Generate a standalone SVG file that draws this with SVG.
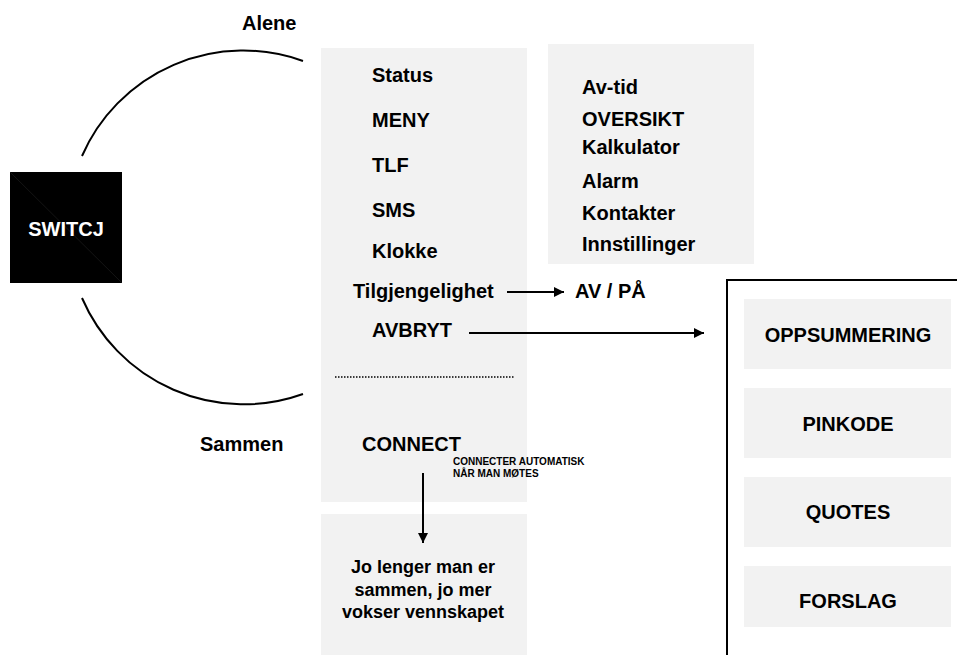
<svg xmlns="http://www.w3.org/2000/svg" width="957" height="655" viewBox="0 0 957 655">
<defs>
<style>
.t{font-family:"Liberation Sans",Arial,Helvetica,sans-serif;font-weight:bold;font-size:20px;fill:#000}
.c{text-anchor:middle}
.panel{fill:#f2f2f2}
.conn{stroke:#000;stroke-width:2;fill:none}
</style>
<marker id="ah" viewBox="0 0 10 10" refX="10" refY="5" markerWidth="10" markerHeight="10" markerUnits="userSpaceOnUse" orient="auto">
<path d="M0,0 L10,5 L0,10 Z" fill="#000"/>
</marker>
</defs>
<rect width="957" height="655" fill="#fff"/>

<g id="switcj">
<rect x="10" y="172" width="112" height="111" fill="#000"/>
<line x1="10" y1="172" x2="122" y2="283" stroke="#222" stroke-width="0.6"/>
<text class="t c" x="66" y="236" fill="#fff" style="fill:#fff">SWITCJ</text>
</g>

<g id="labels">
<text class="t" x="242" y="30">Alene</text>
<text class="t" x="200" y="451">Sammen</text>
</g>

<g id="panel-alene">
<rect class="panel" x="321" y="48" width="206" height="454"/>
<text class="t" x="372" y="82">Status</text>
<text class="t" x="372" y="127">MENY</text>
<text class="t" x="372" y="172">TLF</text>
<text class="t" x="372" y="217">SMS</text>
<text class="t" x="372" y="258">Klokke</text>
<text class="t" x="353" y="298">Tilgjengelighet</text>
<text class="t" x="372" y="337">AVBRYT</text>
<line x1="335" y1="377" x2="514" y2="377" stroke="#000" stroke-width="1.5" stroke-dasharray="1.5,1.5"/>
<text class="t" x="362" y="451">CONNECT</text>
<text class="t" x="453" y="465" style="font-size:10px">CONNECTER AUTOMATISK</text>
<text class="t" x="453" y="477" style="font-size:10px">NÅR MAN MØTES</text>
</g>

<g id="panel-meny">
<rect class="panel" x="548" y="44" width="206" height="220"/>
<text class="t" x="582" y="94">Av-tid</text>
<text class="t" x="582" y="126">OVERSIKT</text>
<text class="t" x="582" y="154">Kalkulator</text>
<text class="t" x="582" y="188">Alarm</text>
<text class="t" x="582" y="220">Kontakter</text>
<text class="t" x="582" y="251">Innstillinger</text>
</g>

<g id="avpa">
<text class="t" x="575" y="298">AV / PÅ</text>
</g>

<g id="panel-sammen">
<rect class="panel" x="321" y="514" width="206" height="141"/>
<text class="t c" x="423" y="573" style="font-size:18px">Jo lenger man er</text>
<text class="t c" x="423" y="596" style="font-size:18px">sammen, jo mer</text>
<text class="t c" x="423" y="618" style="font-size:18px">vokser vennskapet</text>
</g>

<g id="panel-avbryt">
<rect x="727" y="280" width="250" height="400" fill="#fff" stroke="#000" stroke-width="2"/>
<g id="oppsummering">
<rect class="panel" x="744" y="299" width="207" height="70"/>
<text class="t c" x="848" y="342">OPPSUMMERING</text>
</g>
<g id="pinkode">
<rect class="panel" x="744" y="388" width="207" height="70"/>
<text class="t c" x="848" y="431">PINKODE</text>
</g>
<g id="quotes">
<rect class="panel" x="744" y="477" width="207" height="70"/>
<text class="t c" x="848" y="519">QUOTES</text>
</g>
<g id="forslag">
<rect class="panel" x="744" y="566" width="207" height="61"/>
<text class="t c" x="848" y="608">FORSLAG</text>
</g>
</g>

<g id="connectors">
<path class="conn" d="M82,156 A176,176 0 0 1 303,61"/>
<path class="conn" d="M82,298 A176,176 0 0 0 303,394"/>
<line class="conn" x1="507" y1="292" x2="564" y2="292" marker-end="url(#ah)"/>
<line class="conn" x1="469" y1="333" x2="704" y2="333" marker-end="url(#ah)"/>
<line class="conn" x1="423" y1="473" x2="423" y2="543" marker-end="url(#ah)"/>
</g>
</svg>
